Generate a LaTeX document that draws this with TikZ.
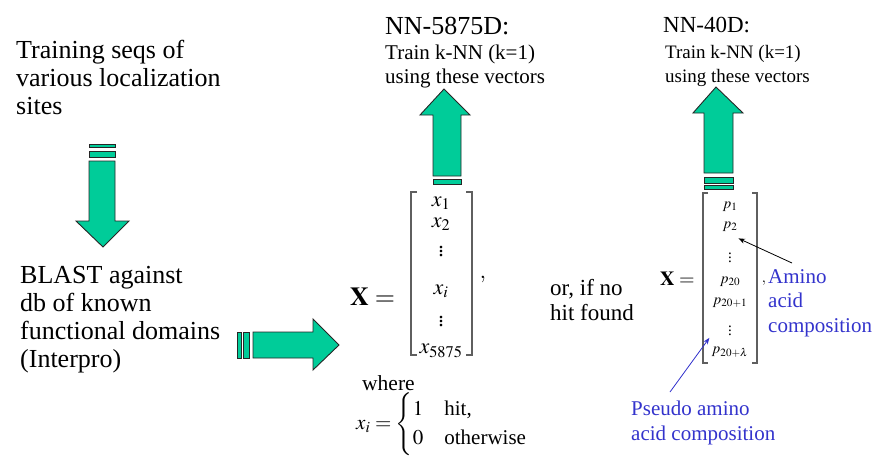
\documentclass[tikz,border=0pt]{standalone}
\usepackage{amsmath}
\usepackage{mathptmx}
\usepackage{fontspec}
\setmainfont{Liberation Serif}
\usetikzlibrary{arrows.meta,positioning}
\definecolor{arrowgreen}{RGB}{0,204,153}
\definecolor{labelblue}{RGB}{51,51,204}
\definecolor{bracketgray}{RGB}{95,95,95}

\begin{document}
\begin{tikzpicture}[x=1pt, y=-1pt, >=Stealth]
  \tikzset{
    bigtext/.style={anchor=base west, inner sep=0, align=left, font=\fontsize{26}{28}\selectfont},
    midtext/.style={anchor=base west, inner sep=0, align=left, font=\fontsize{21}{24.5}\selectfont},
    smalltext/.style={anchor=base west, inner sep=0, align=left, font=\fontsize{19}{24}\selectfont},
    bluetext/.style={midtext, text=labelblue},
    blockarrow/.style={fill=arrowgreen, draw=black!85, line width=0.9pt, line join=miter},
    entry/.style={inner sep=0, font=\fontsize{22}{24}\selectfont},
    smallentry/.style={inner sep=0, font=\fontsize{15}{17}\selectfont},
    bracket/.style={draw=bracketgray, line width=1.1pt},
    pointer/.style={->, line width=0.8pt, shorten >=1pt}
  }
  \useasboundingbox (0,0) rectangle (876,458);

  % left column texts (anchored at the baseline of the last line)
  \node[bigtext] (training) at (16,114) {Training seqs of\\various localization\\sites};
  \node[bigtext] (blast) at (20,367) {BLAST against\\db of known\\functional domains\\(Interpro)};

  % top captions
  \node[bigtext] (nn5875) at (385,34) {NN-5875D:};
  \node[midtext] (train1) at (385,83.5) {Train k-NN (k=1)\\using these vectors};
  \node[bigtext, font=\fontsize{23}{26}\selectfont] (nn40) at (663,32) {NN-40D:};
  \node[smalltext] (train2) at (665,82) {Train k-NN (k=1)\\using these vectors};

  % block arrows
  \filldraw[blockarrow] (89,144) rectangle (115,147);
  \filldraw[blockarrow] (89,151) rectangle (115,157);
  \filldraw[blockarrow] (89,161) -- (115,161) -- (115,221) -- (129,221) -- (103,247)
    -- (76,221) -- (89,221) -- cycle;

  \filldraw[blockarrow] (237,332) rectangle (241,358);
  \filldraw[blockarrow] (243,332) rectangle (249,358);
  \filldraw[blockarrow] (253,332) -- (313,332) -- (313,319) -- (339,345) -- (313,370)
    -- (313,358) -- (253,358) -- cycle;

  \filldraw[blockarrow] (433,176) -- (433,115) -- (420,115) -- (444,89) -- (470,115)
    -- (461,115) -- (461,176) -- cycle;
  \filldraw[blockarrow] (433,179) rectangle (461,184);

  \filldraw[blockarrow] (704,173) -- (704,113) -- (693,113) -- (716,87) -- (743,113)
    -- (733,113) -- (733,173) -- cycle;
  \filldraw[blockarrow] (704,177) rectangle (733,183);
  \filldraw[blockarrow] (704,185) rectangle (733,189);

  % left vector
  \node[entry, anchor=base west, font=\fontsize{26}{28}\selectfont] (xeq) at (350,305) {$\mathbf{X} =$};
  \draw[bracket] (417,192) -- (411,192) -- (411,355) -- (417,355);
  \draw[bracket] (466,192) -- (472,192) -- (472,355) -- (466,355);
  \node[entry] (x1) at (441,203) {$x_1$};
  \node[entry] (x2) at (441,224) {$x_2$};
  \node[entry] (xd1) at (441,249) {$\vdots$};
  \node[entry] (xi) at (441,291) {$x_i$};
  \node[entry] (xd2) at (441,319) {$\vdots$};
  \node[entry] (xn) at (441,351) {$x_{5875}$};
  \node[entry] (xcomma) at (483,279) {$,$};
  \node[smalltext, font=\fontsize{21.5}{24}\selectfont] (where) at (362,390) {where};
  \node[entry, anchor=west, font=\fontsize{21}{24}\selectfont] (xcases) at (356,424)
    {$x_i = \begin{cases} 1 & \text{hit,}\\ 0 & \text{otherwise} \end{cases}$};

  % alternative
  \node[bigtext, font=\fontsize{23}{25}\selectfont] (orif) at (550,320) {or, if no\\hit found};

  % right vector
  \node[entry, anchor=base west, font=\fontsize{20}{22}\selectfont] (peq) at (660,285) {$\mathbf{X} =$};
  \draw[bracket] (708,193) -- (703,193) -- (703,363) -- (708,363);
  \draw[bracket] (752,193) -- (757,193) -- (757,363) -- (752,363);
  \node[smallentry] (p1) at (730,207) {$p_1$};
  \node[smallentry] (p2) at (730,227) {$p_2$};
  \node[smallentry] (pd1) at (730,255) {$\vdots$};
  \node[smallentry] (p20) at (730,282) {$p_{20}$};
  \node[smallentry] (p21) at (730,303) {$p_{20+1}$};
  \node[smallentry] (pd2) at (730,328) {$\vdots$};
  \node[smallentry] (pl) at (730,352) {$p_{20+\lambda}$};
  \node[smallentry] (pcomma) at (764,283) {$,$};

  % annotations
  \node[bluetext] (amino) at (768,332) {Amino\\acid\\composition};
  \node[bluetext] (pseudo) at (631,440) {Pseudo amino\\acid composition};
  \coordinate (aminotail) at (792,263);
  \coordinate (pseudotail) at (670,392);
  \draw[pointer, black] (aminotail) -- (p2.east |- 0,238);
  \draw[pointer, labelblue] (pseudotail) -- (710,337);
\end{tikzpicture}
\end{document}
